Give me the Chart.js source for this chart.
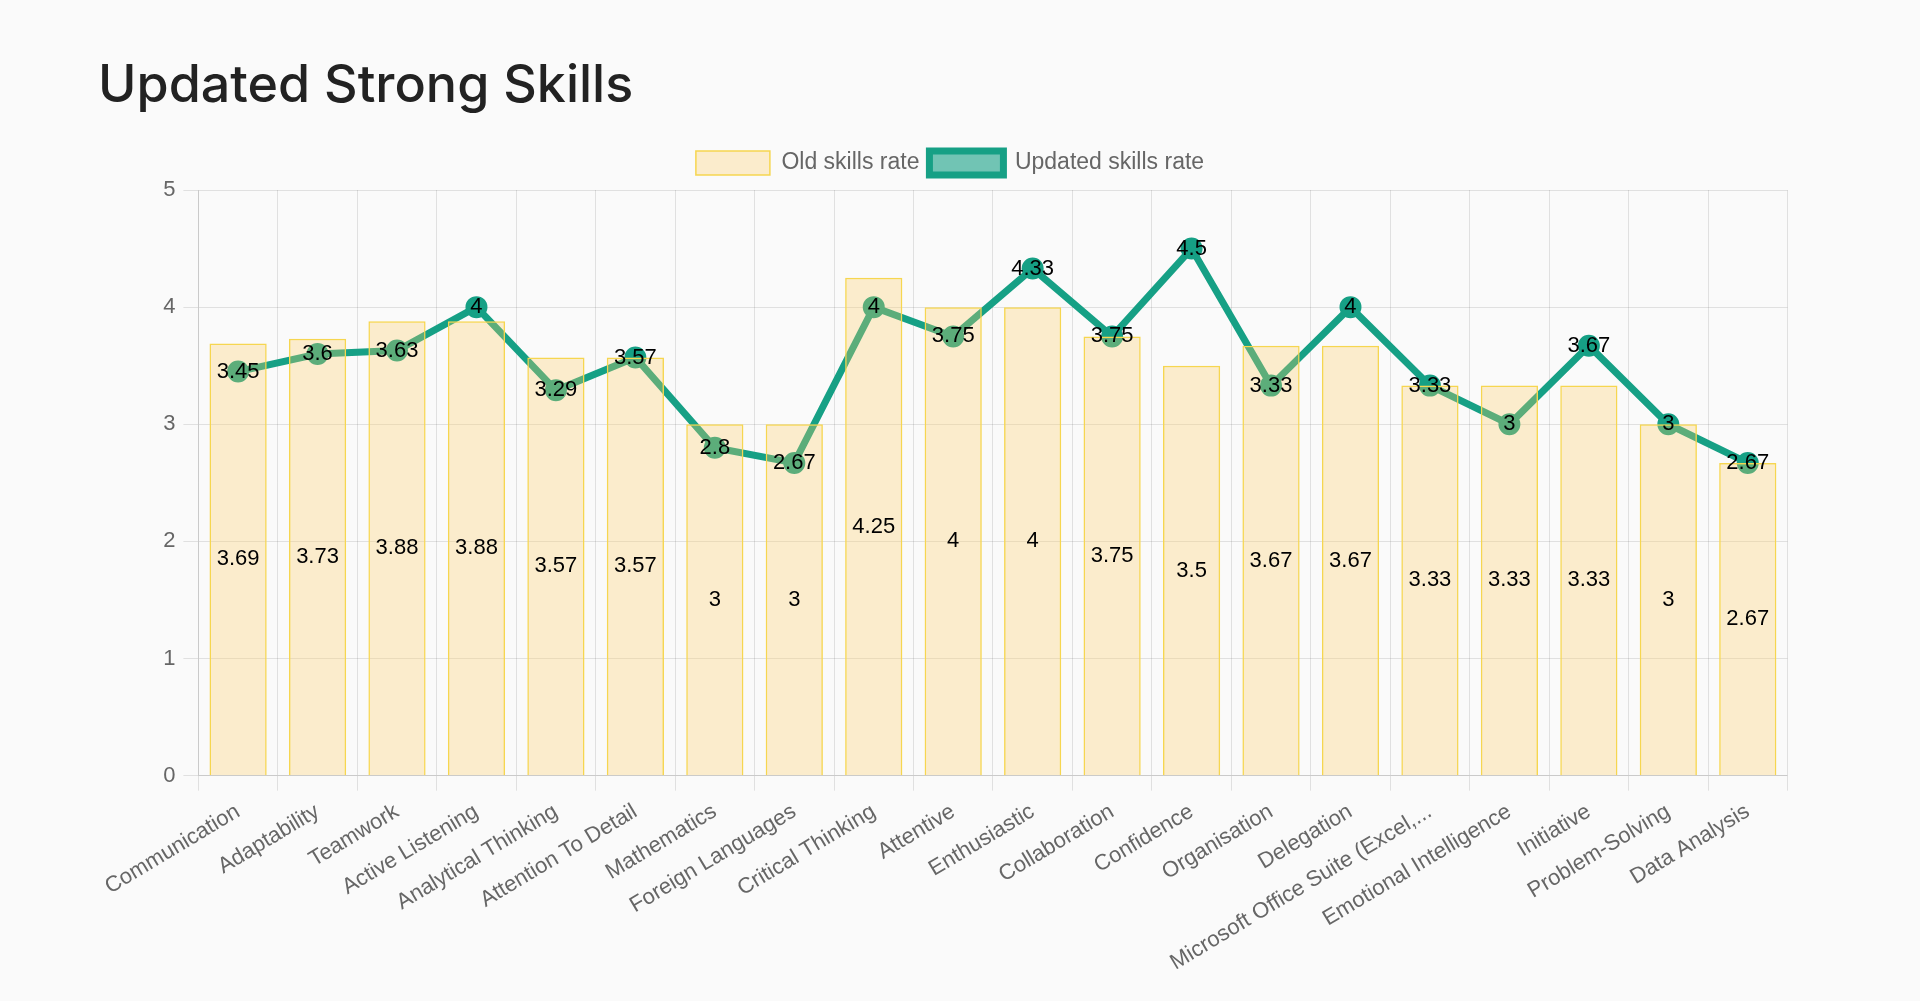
<!DOCTYPE html>
<html>
<head>
<meta charset="utf-8">
<script src="https://cdn.jsdelivr.net/npm/chart.js@4.4.1/dist/chart.umd.min.js"></script>
<style>
  html, body { margin: 0; padding: 0; background: #fafafa; }
  h1 {
    position: absolute; left: 98px; top: 58px; margin: 0;
    font-family: Inter, 'Noto Sans', sans-serif; font-weight: 500;
    font-size: 52px; line-height: 52px; color: #222;
  }
  #wrap { position: absolute; left: 98px; top: 141px; width: 1704px; height: 843px; }
</style>
</head>
<body>
<h1>Updated Strong Skills</h1>
<div id="wrap"><canvas id="canvas-skills"></canvas></div>
<script>
const skillLabels = ['Communication', 'Adaptability', 'Teamwork', 'Active Listening', 'Analytical Thinking',
    'Attention To Detail', 'Mathematics', 'Foreign Languages', 'Critical Thinking', 'Attentive',
    'Enthusiastic', 'Collaboration', 'Confidence', 'Organisation', 'Delegation',
    'Microsoft Office Suite (Excel,...', 'Emotional Intelligence', 'Initiative', 'Problem-Solving', 'Data Analysis'];
const oldRates = [3.69, 3.73, 3.88, 3.88, 3.57, 3.57, 3, 3, 4.25, 4, 4, 3.75, 3.5, 3.67, 3.67, 3.33, 3.33, 3.33, 3, 2.67];
const updatedRates = [3.45, 3.6, 3.63, 4, 3.29, 3.57, 2.8, 2.67, 4, 3.75, 4.33, 3.75, 4.5, 3.33, 4, 3.33, 3, 3.67, 3, 2.67];
const yTicks = [0, 1, 2, 3, 4, 5];

const canvas = document.getElementById('canvas-skills');
var ctx = canvas.getContext('2d');

Chart.defaults.font.family = "'Liberation Sans', Arial, Helvetica, sans-serif";
Chart.defaults.color = '#666';

// draws the value of every bar (middle of bar) and every point (on the point)
const valueLabels = {
    id: 'valueLabels',
    afterDatasetsDraw(chart) {
        const c = chart.ctx;
        c.save();
        c.font = "22px 'Liberation Sans', Arial, sans-serif";
        c.fillStyle = '#000';
        c.textAlign = 'center';
        c.textBaseline = 'middle';
        chart.data.datasets.forEach((ds, i) => {
            const meta = chart.getDatasetMeta(i);
            meta.data.forEach((el, j) => {
                const y = meta.type === 'bar' ? (el.y + el.base) / 2 : el.y;
                c.fillText(String(ds.data[j]), el.x, y);
            });
        });
        c.restore();
    }
};

// a little more room under the legend
const legendGap = {
    id: 'legendGap',
    beforeInit(chart) {
        const origFit = chart.legend.fit;
        chart.legend.fit = function () {
            origFit.bind(chart.legend)();
            this.height += 5;
        };
    }
};

new Chart(ctx, {
    type: 'bar',
    data: {
        labels: skillLabels,
        datasets: [{
            label: 'Old skills rate',
            data: oldRates,
            backgroundColor: 'rgba(255, 206, 100, 0.3)',
            borderColor: 'rgb(246, 214, 80)',
            borderWidth: 1.5
        }, {
            type: 'line',
            label: 'Updated skills rate',
            data: updatedRates,
            borderColor: 'rgb(22, 160, 133)',
            backgroundColor: 'rgba(22, 160, 133, 0.6)',
            borderWidth: 7,
            pointRadius: 7.5,
            pointBackgroundColor: 'rgb(22, 160, 133)',
            pointBorderColor: 'rgb(22, 160, 133)',
            tension: 0
        }]
    },
    options: {
        responsive: true,
        maintainAspectRatio: false,
        animation: false,
        plugins: {
            legend: {
                labels: {
                    boxWidth: 74,
                    boxHeight: 24,
                    padding: 10,
                    font: { size: 23 },
                    color: '#666'
                }
            },
            tooltip: { enabled: false }
        },
        scales: {
            x: {
                grid: { tickLength: 15 },
                ticks: {
                    font: { size: 22 },
                    padding: 8,
                    minRotation: 31,
                    maxRotation: 31,
                    autoSkip: false
                }
            },
            y: {
                min: 0,
                max: 5,
                grid: { tickLength: 15 },
                afterBuildTicks: (axis) => { axis.ticks = yTicks.map(v => ({ value: v })); },
                ticks: { font: { size: 22 }, padding: 8 }
            }
        }
    },
    plugins: [valueLabels, legendGap]
});
</script>
</body>
</html>
